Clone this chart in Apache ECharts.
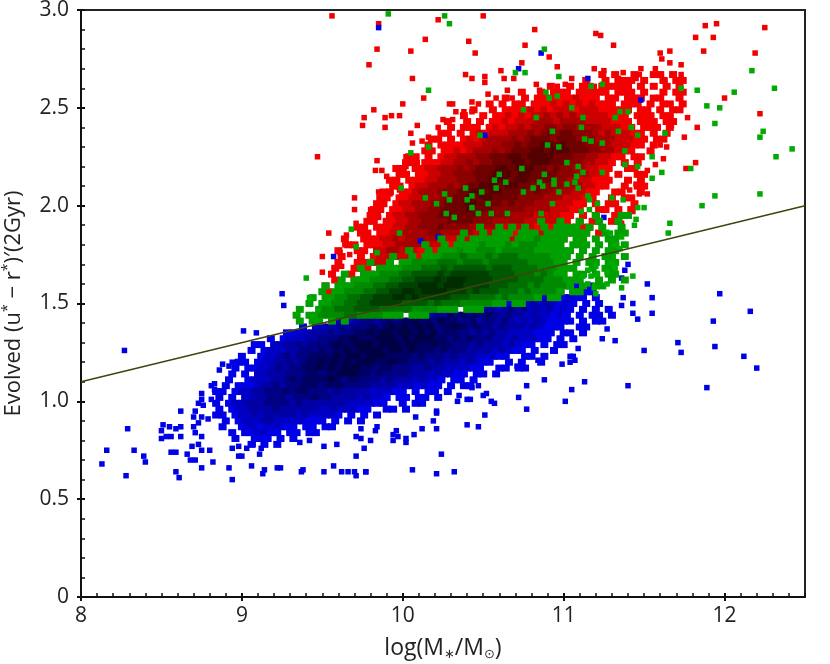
<!DOCTYPE html>
<html>
<head>
<meta charset="utf-8">
<title>Evolved colour vs stellar mass</title>
<script src="https://cdn.jsdelivr.net/npm/echarts@6/dist/echarts.min.js"></script>
<style>
    html, body { margin: 0; padding: 0; background: #fff; }
    #chart { width: 830px; height: 664px; }
</style>
</head>
<body>
<div id="chart"></div>
<script>
"use strict";

var yTickLabels = ["0", "0.5", "1.0", "1.5", "2.0", "2.5", "3.0"];

// dividing line
var lineX = [8, 12.5];
var lineY = [1.1, 2.0];

// dense clouds, read off the picture as shade per bin: one string per row,
// 0 = empty, 1 = single point colour ... 6 = darkest. bins are 0.04 wide, 0.03 high
var binWidth = 0.04;

var blueRowY = [1.59, 1.56, 1.53, 1.50, 1.47, 1.44, 1.41, 1.38, 1.35, 1.32, 1.29, 1.26, 1.23, 1.20, 1.17, 1.14, 1.11, 1.08, 1.05, 1.02, 0.99, 0.96, 0.93, 0.90, 0.87, 0.84, 0.81, 0.78];
var blueRowX = [11.04, 10.98, 10.80, 10.66, 10.44, 10.14, 9.60, 9.38, 9.24, 9.18, 9.08, 9.06, 9.00, 8.98, 8.96, 8.94, 8.92, 8.90, 8.84, 8.86, 8.84, 8.86, 8.84, 8.90, 8.88, 8.94, 8.96, 9.06];
var blueRows = [
    "1101",
    "1012110",
    "11202121101",
    "1122323212101010",
    "1233234342323121010101",
    "234354545454343323221210101101",
    "232344345455655465544534434323232111101011",
    "102233434445456565656455654544343332321110011",
    "011223334344556566566565645544343433222211101101",
    "1012223344455655566656566655454544433232221101010",
    "1102233434445655666566656655655444343332321101011",
    "101222334445455656666566565554544433332321101001",
    "100122343445555656656665555454443433322211001101",
    "110122334345565656566655655444343332321100101001",
    "1011223434455656566655455444334332222110011011",
    "1010223334445545566655454444333232211011010",
    "100122233454555565455444343332322101101",
    "101112334344555455544443333222121101011",
    "1101223344454554443433332222110101101",
    "10102233444344454433332322101101101",
    "101223334444343333333222211001011",
    "101223333433333322322211001101",
    "11012232333332322221010101",
    "1012223322222111010101",
    "100122122211011011",
    "10112211011011",
    "1001110101",
    "101010"
];

var redRowY = [2.67, 2.64, 2.61, 2.58, 2.55, 2.52, 2.49, 2.46, 2.43, 2.40, 2.37, 2.34, 2.31, 2.28, 2.25, 2.22, 2.19, 2.16, 2.13, 2.10, 2.07, 2.04, 2.01, 1.98, 1.95, 1.92, 1.89, 1.86, 1.83, 1.80, 1.77, 1.74, 1.71, 1.68, 1.65, 1.62, 1.59, 1.56];
var redRowX = [11.24, 11.14, 10.92, 10.74, 10.64, 10.54, 10.44, 10.38, 10.28, 10.26, 10.24, 10.18, 10.16, 10.14, 10.04, 10.02, 9.96, 9.98, 9.92, 9.94, 9.88, 9.86, 9.84, 9.82, 9.80, 9.78, 9.72, 9.74, 9.64, 9.66, 9.60, 9.62, 9.60, 9.58, 9.56, 9.58, 9.52, 9.54];
var redRows = [
    "101001001101",
    "1001011101001011",
    "100101101111101010101",
    "10010111011111011101001011",
    "1001011111121110110111011001",
    "1010110111212121211101110101101",
    "100101111212122212221111101101011",
    "1001011212122323232222211101110110",
    "100101011212223332333322221110111011",
    "010111012122323344344333322211011101",
    "110101212223334345455444323222110101",
    "1101012123333434555455543433322211011",
    "101111222333445455665655544332221101",
    "110112123334345556656665554433221001",
    "1101012233344555665666655544332211011",
    "1101112233434455566566655544332210101",
    "11011223334345556656665545443322110011",
    "110112233444555666566555544433221010011",
    "1101112233344455666566555544332211100101",
    "1101223334345566656655454443332211001011",
    "11011233344455665665555454433322110011001",
    "11011223334455656655554444333222110010110",
    "11012233344555665555454443332221101011001",
    "11011223344555565554444433332221100110101",
    "1101223344455555544444333322221101010011",
    "1101122334444555544433333222221101011011",
    "1101112233444544443333322222111010111",
    "11011223333443333322222210112222111101",
    "10011122323333332212122222211110101",
    "11011122333322211222221111111101",
    "10011022332221012222111101",
    "100101222220122211101",
    "10011122101",
    "100111011",
    "1001011",
    "10011",
    "1001",
    "101"
];

var greenRowY = [1.95, 1.92, 1.89, 1.86, 1.83, 1.80, 1.77, 1.74, 1.71, 1.68, 1.65, 1.62, 1.59, 1.56, 1.53, 1.50, 1.47, 1.44, 1.41];
var greenRowX = [11.16, 10.86, 10.48, 10.38, 10.24, 10.14, 10.04, 9.94, 9.80, 9.74, 9.64, 9.62, 9.52, 9.50, 9.44, 9.42, 9.36, 9.34, 9.36];
var greenRows = [
    "0100011",
    "1001001001001",
    "10010101001011110101001",
    "10010111011101111111001011",
    "1001011111101112111101101011",
    "10010111121112122211110111010101",
    "100101112112221222221111110101011",
    "1001011122232223233322222111010101101",
    "100101122223332333233333322221101011011",
    "10011112223334344444344433332221110010110",
    "1001112223344445455555544443332321101101011",
    "101112223344555656665555444433332221110010101",
    "101112223344555666566655554443332322221010110",
    "10112223344556656666555454443332322221011",
    "101122334455566565555544433332322221011",
    "1011223344555554444343332222211011",
    "10012233344443333322221110111",
    "101122223322221110111",
    "10110101"
];

// single points around the clouds
var redX = [9.56, 9.85, 10.22, 10.50, 10.82, 11.20, 11.23, 10.14, 10.41, 10.76, 11.31, 9.84, 10.05, 10.45, 10.91, 11.66, 11.60, 11.61, 11.66, 11.73, 9.79, 10.74, 10.96, 10.61, 11.19, 11.25, 11.37, 11.48, 11.57, 11.73, 10.06, 10.39, 10.43, 10.51, 10.51, 10.63, 10.69, 10.13, 10.00, 9.82, 9.76, 9.75, 9.89, 9.89, 9.93, 9.98, 10.09, 10.05, 9.47, 9.84, 9.83, 9.87, 9.90, 9.85, 9.70, 9.70, 9.54, 9.50, 9.50, 11.88, 11.95, 12.25, 11.82, 11.93, 11.87, 12.19, 12.00, 12.22, 11.77, 11.83, 11.75, 11.82, 11.76, 11.52,
    10.02, 10.06, 10.12, 10.16, 10.22, 10.25, 10.31, 10.33, 10.38, 10.43, 10.47, 10.43, 10.29, 10.31, 10.53, 10.58, 10.65, 10.68, 10.83, 10.85, 10.96, 11.01, 11.05, 11.19, 11.34, 11.40, 11.45, 11.47, 11.58, 11.63,
    9.98, 10.02, 10.09, 9.92, 9.98, 9.87, 9.80, 9.84, 9.81, 9.85, 9.71, 9.75, 9.65, 9.64, 9.61, 9.67, 9.62, 9.56, 9.52, 9.54,
    11.70, 11.67, 11.64, 11.60, 11.62, 11.57, 11.52, 11.47, 11.45, 11.47, 11.41, 11.43, 11.40, 11.34, 11.36];
var redY = [2.97, 2.93, 2.95, 2.97, 2.90, 2.88, 2.87, 2.85, 2.84, 2.82, 2.82, 2.80, 2.79, 2.78, 2.76, 2.79, 2.78, 2.75, 2.73, 2.72, 2.72, 2.73, 2.71, 2.69, 2.70, 2.69, 2.68, 2.70, 2.70, 2.67, 2.65, 2.67, 2.65, 2.66, 2.63, 2.65, 2.65, 2.55, 2.52, 2.49, 2.45, 2.41, 2.45, 2.40, 2.46, 2.46, 2.41, 2.37, 2.25, 2.23, 2.18, 2.18, 2.15, 2.07, 2.04, 1.98, 1.86, 1.74, 1.66, 2.92, 2.93, 2.91, 2.86, 2.86, 2.79, 2.78, 2.55, 2.47, 2.45, 2.40, 2.35, 2.22, 2.19, 2.06,
    2.25, 2.32, 2.33, 2.35, 2.40, 2.44, 2.44, 2.48, 2.48, 2.53, 2.52, 2.48, 2.52, 2.52, 2.57, 2.55, 2.59, 2.55, 2.62, 2.59, 2.61, 2.62, 2.65, 2.61, 2.65, 2.64, 2.65, 2.67, 2.67, 2.64,
    2.17, 2.20, 2.22, 2.06, 2.08, 2.02, 1.98, 1.98, 1.94, 1.94, 1.91, 1.87, 1.85, 1.80, 1.76, 1.75, 1.69, 1.65, 1.57, 1.55,
    2.49, 2.41, 2.30, 2.31, 2.24, 2.21, 2.18, 2.16, 2.11, 2.06, 2.08, 1.97, 1.95, 1.94, 1.91];

var greenX = [9.91, 10.26, 10.29, 10.88, 10.70, 10.76, 10.97, 10.16, 11.73, 11.83, 10.89, 10.91, 10.96, 11.17, 11.24, 10.75, 11.05, 10.83, 11.12, 11.35, 11.40, 11.32, 11.11, 11.42, 10.93, 11.34, 11.46, 11.63, 11.13, 11.17, 11.24, 10.90, 10.97, 10.48, 10.16, 10.05, 11.38, 11.55, 11.02, 11.09, 10.74, 11.38, 11.46, 11.79, 11.61, 11.55, 10.60, 10.57, 10.64, 10.88, 10.85, 10.94, 10.94, 11.08, 11.12, 11.24, 11.02, 11.07, 11.09, 9.99, 10.39, 10.58, 10.49, 10.43, 10.75, 10.87, 10.81, 10.97, 10.14, 10.26, 10.29, 10.40, 10.21, 10.53, 10.93, 10.43, 11.15, 11.16, 11.21, 11.30, 11.37, 11.11, 11.16, 10.27, 10.32, 10.47, 10.55, 10.65, 10.86, 11.46, 11.50, 11.45, 11.66, 11.44, 11.65, 9.68, 9.98, 9.71, 9.84, 9.40, 9.42, 12.17, 12.31, 12.06, 11.89, 11.97, 11.94, 12.24, 12.22, 12.42, 12.32, 11.94, 12.22, 11.86,
    11.30, 11.32, 11.27, 11.20, 11.15, 11.17, 11.21, 11.12, 11.15, 11.19, 11.27, 11.36, 11.43, 11.20, 11.33, 11.35, 11.36, 11.29];
var greenY = [2.98, 2.97, 2.93, 2.80, 2.68, 2.68, 2.66, 2.59, 2.60, 2.59, 2.58, 2.55, 2.56, 2.61, 2.62, 2.49, 2.50, 2.45, 2.45, 2.48, 2.48, 2.45, 2.40, 2.40, 2.38, 2.38, 2.36, 2.37, 2.34, 2.33, 2.32, 2.31, 2.30, 2.36, 2.30, 2.27, 2.28, 2.25, 2.22, 2.20, 2.19, 2.21, 2.20, 2.19, 2.17, 2.14, 2.16, 2.13, 2.12, 2.16, 2.12, 2.13, 2.11, 2.15, 2.17, 2.17, 2.11, 2.12, 2.09, 2.09, 2.09, 2.09, 2.07, 2.05, 2.07, 2.10, 2.09, 2.07, 2.04, 2.06, 2.03, 2.03, 2.01, 2.01, 2.01, 1.99, 2.05, 2.03, 2.01, 2.04, 2.03, 1.97, 1.98, 1.96, 1.94, 1.96, 1.96, 1.96, 1.96, 1.99, 1.99, 1.93, 1.91, 1.90, 1.86, 1.88, 1.86, 1.79, 1.76, 1.63, 1.53, 2.69, 2.60, 2.58, 2.51, 2.50, 2.42, 2.38, 2.35, 2.29, 2.25, 2.05, 2.06, 2.00,
    1.71, 1.68, 1.66, 1.69, 1.67, 1.64, 1.65, 1.64, 1.60, 1.58, 1.60, 1.58, 1.64, 1.55, 1.80, 1.78, 1.84, 1.86];

var blueX = [9.85, 10.86, 10.72, 11.15, 11.48, 10.51, 10.22, 10.11, 9.57, 11.25, 8.27, 9.25, 9.26, 9.01, 9.09, 8.75, 8.62, 8.71, 8.70, 8.51, 8.55, 8.29, 8.50, 8.62, 8.59, 8.53, 8.56, 8.50, 8.62, 8.16, 8.33, 8.39, 8.40, 8.13, 8.28, 8.56, 8.59, 8.59, 8.61, 8.66, 8.68, 8.71, 8.75, 8.82, 8.92, 8.94, 9.06, 9.14, 9.13, 9.22, 9.24, 9.38, 9.37, 9.51, 9.57, 9.62, 9.66, 9.70, 9.71, 9.77, 9.77, 10.06, 10.21, 10.32, 9.71, 9.76, 9.51, 9.59, 10.24, 9.80, 9.71, 9.74, 9.94, 9.97, 10.02, 10.02, 10.07, 9.94, 9.96, 10.12, 10.21, 10.40, 10.47, 10.19, 10.21, 10.21, 10.08, 9.83, 9.84, 9.74, 11.40, 11.38, 11.36, 11.52, 11.55, 11.97, 12.16, 11.93, 11.55, 11.46, 11.43, 11.43, 11.36, 11.37, 11.27, 11.24, 11.32, 11.71, 11.73, 11.94, 11.50, 12.12, 12.20, 11.89, 11.40, 11.13, 10.88, 11.05, 11.01, 10.77, 10.72, 10.77, 10.51, 10.57, 10.55, 10.50, 10.52, 10.42, 10.40, 10.34, 10.35, 10.47, 10.43, 10.99, 11.04, 11.07, 11.06, 11.04, 11.09, 10.71, 10.84,
    8.86, 8.88, 8.92, 8.94, 8.83, 8.81, 8.83, 8.75, 8.76, 8.73, 8.81, 8.79, 8.70, 8.73, 8.75, 8.71, 8.75, 8.73, 8.69, 8.75, 8.80, 8.94, 8.98, 9.03, 9.07, 9.12, 8.98, 9.00, 9.11, 9.36, 9.42];
var blueY = [2.91, 2.78, 2.70, 2.65, 2.54, 2.36, 1.84, 1.82, 1.74, 1.94, 1.26, 1.55, 1.49, 1.36, 1.35, 1.04, 0.95, 0.95, 0.92, 0.88, 0.87, 0.86, 0.85, 0.87, 0.86, 0.82, 0.82, 0.81, 0.82, 0.75, 0.75, 0.72, 0.69, 0.68, 0.62, 0.74, 0.74, 0.64, 0.61, 0.73, 0.70, 0.70, 0.66, 0.69, 0.66, 0.60, 0.67, 0.65, 0.63, 0.66, 0.66, 0.65, 0.64, 0.64, 0.67, 0.64, 0.64, 0.64, 0.62, 0.64, 0.64, 0.65, 0.63, 0.64, 0.72, 0.76, 0.77, 0.78, 0.73, 0.80, 0.82, 0.81, 0.80, 0.82, 0.79, 0.81, 0.83, 0.83, 0.85, 0.86, 0.86, 0.88, 0.87, 0.90, 0.94, 0.95, 0.92, 0.85, 0.87, 0.86, 1.70, 1.67, 1.63, 1.60, 1.53, 1.55, 1.46, 1.41, 1.45, 1.42, 1.45, 1.50, 1.49, 1.53, 1.37, 1.32, 1.31, 1.30, 1.25, 1.28, 1.26, 1.23, 1.17, 1.07, 1.08, 1.10, 1.11, 1.06, 1.00, 1.08, 1.02, 0.96, 0.93, 0.99, 1.00, 1.03, 1.04, 1.01, 1.01, 1.00, 1.03, 1.08, 1.07, 1.19, 1.20, 1.21, 1.23, 1.23, 1.27, 1.18, 1.21,
    1.16, 1.19, 1.18, 1.20, 1.09, 1.08, 1.06, 1.01, 0.98, 0.99, 1.01, 0.91, 0.87, 0.89, 0.92, 0.84, 0.82, 0.78, 0.77, 0.75, 0.75, 0.76, 0.77, 0.76, 0.78, 0.76, 0.72, 0.72, 0.73, 0.79, 0.80];

var redShades = ["#f40000", "#cc0000", "#a80000", "#8c0000", "#700000", "#540000"];
var greenShades = ["#00a000", "#008a00", "#007000", "#005800", "#004000", "#002c00"];
var blueShades = ["#0000e6", "#0000c4", "#0000a4", "#000084", "#000064", "#000044"];

function binsToPoints(rowY, rowX, rows) {
    var points = [];
    rows.forEach(function (row, r) {
        for (var i = 0; i < row.length; i++) {
            var level = Number(row[i]);
            if (level > 0) {
                points.push([rowX[r] + i * binWidth, rowY[r], level]);
            }
        }
    });
    return points;
}

function pairs(xs, ys) {
    return xs.map(function (x, i) { return [x, ys[i]]; });
}

function cloud(rowY, rowX, rows, shades) {
    return {
        type: "scatter",
        data: binsToPoints(rowY, rowX, rows),
        symbol: "rect",
        symbolSize: [8, 7],
        silent: true,
        itemStyle: {
            opacity: 1,
            color: function (p) { return shades[p.value[2] - 1]; }
        }
    };
}

function strays(xs, ys, color) {
    return {
        type: "scatter",
        data: pairs(xs, ys),
        symbol: "rect",
        symbolSize: 5.5,
        silent: true,
        itemStyle: { opacity: 1, color: color }
    };
}

var font = "'Open Sans', 'Noto Sans', sans-serif";

var chart = echarts.init(document.getElementById("chart"), null, { renderer: "canvas" });
chart.setOption({
    animation: false,
    backgroundColor: "#fff",
    grid: {
        left: 81, right: 25, top: 10, bottom: 67,
        outerBoundsMode: "none",
        show: true,
        borderColor: "#222",
        borderWidth: 2,
        backgroundColor: "transparent"
    },
    xAxis: [
        {
            type: "value", min: 8, max: 12.5, interval: 1,
            position: "bottom",
            splitLine: { show: false },
            axisLine: { onZero: false, lineStyle: { color: "#111", width: 2 } },
            axisTick: { length: 4, lineStyle: { color: "#111", width: 2 } },
            axisLabel: { color: "#222", fontFamily: font, fontSize: 21, margin: 9, showMaxLabel: false },
            name: "{n|log(M}{s|∗}{n|/M}{s|⊙}{n|)}",
            nameLocation: "middle",
            nameGap: 38,
            nameTextStyle: {
                rich: {
                    n: { fontFamily: font, fontSize: 23, color: "#222", lineHeight: 26 },
                    s: { fontFamily: "'DejaVu Sans'", fontSize: 13, color: "#333", lineHeight: 26, verticalAlign: "bottom" }
                }
            }
        },
        {
            type: "value", min: 8, max: 12.5, interval: 1,
            position: "bottom",
            splitLine: { show: false },
            axisLine: { show: true, onZero: false, lineStyle: { color: "#111", width: 2 } },
            axisTick: { show: true, inside: true, length: 4, lineStyle: { color: "#111", width: 2 } },
            minorTick: { show: true, splitNumber: 10, length: 4, lineStyle: { color: "#111", width: 1.5 } },
            axisLabel: { show: false }
        }
    ],
    yAxis: [
        {
            type: "value", min: 0, max: 3, interval: 0.5,
            position: "left",
            splitLine: { show: false },
            axisLine: { show: true, onZero: false, lineStyle: { color: "#111", width: 2 } },
            axisTick: { show: true, length: 4, lineStyle: { color: "#111", width: 2 } },
            axisLabel: {
                color: "#222", fontFamily: font, fontSize: 21, margin: 12,
                padding: [4, 0, 0, 0],
                formatter: function (v) { return yTickLabels[Math.round(v * 2)]; }
            },
            name: "{n|Evolved (u}{p|*}{n| − r}{p|*}{n|)′(2Gyr)}",
            nameLocation: "middle",
            nameGap: 54,
            nameTextStyle: {
                rich: {
                    n: { fontFamily: font, fontSize: 22, color: "#222", lineHeight: 26 },
                    p: { fontFamily: font, fontSize: 14, color: "#222", lineHeight: 26, verticalAlign: "top" }
                }
            }
        },
        {
            type: "value", min: 0, max: 3, interval: 0.5,
            position: "left",
            splitLine: { show: false },
            axisLine: { show: true, onZero: false, lineStyle: { color: "#111", width: 2 } },
            axisTick: { show: true, inside: true, length: 4, lineStyle: { color: "#111", width: 2 } },
            minorTick: { show: true, splitNumber: 5, length: 4, lineStyle: { color: "#111", width: 1.5 } },
            axisLabel: { show: false }
        }
    ],
    series: [
        cloud(redRowY, redRowX, redRows, redShades),
        strays(redX, redY, "#f00000"),
        cloud(blueRowY, blueRowX, blueRows, blueShades),
        strays(blueX, blueY, "#0000e6"),
        cloud(greenRowY, greenRowX, greenRows, greenShades),
        strays(greenX, greenY, "#00aa00"),
        {
            type: "line",
            data: pairs(lineX, lineY),
            symbol: "none",
            silent: true,
            lineStyle: { color: "#43430f", width: 1.5 }
        },
        // keeps the second pair of axes (inner ticks) alive
        { type: "scatter", xAxisIndex: 1, yAxisIndex: 1, data: [] }
    ]
});
</script>
</body>
</html>
